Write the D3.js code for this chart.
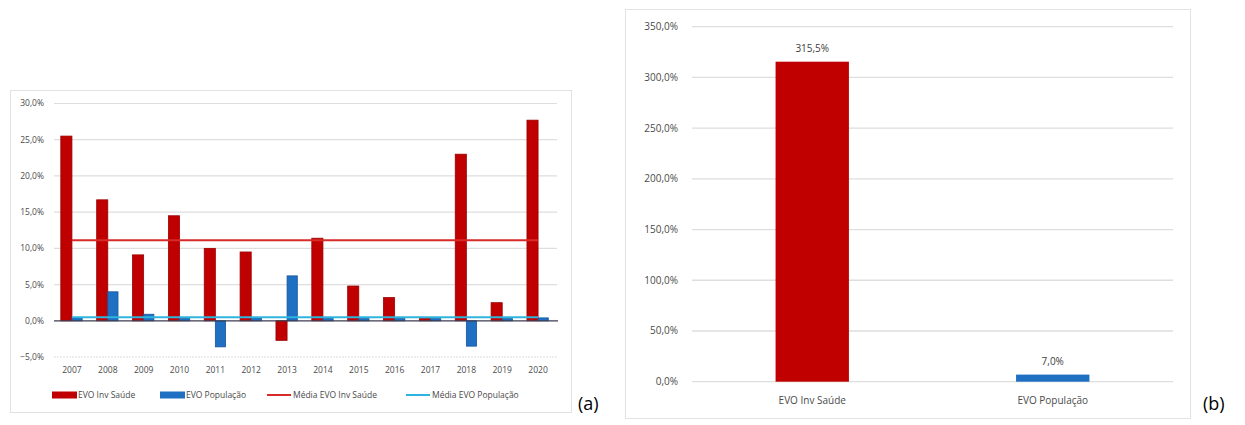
<!DOCTYPE html>
<html>
<head>
<meta charset="utf-8">
<script src="https://cdn.jsdelivr.net/npm/d3@7"></script>
<style>
  html, body { margin: 0; padding: 0; background: #ffffff; }
  svg { display: block; }
  text { font-family: "Open Sans", "Noto Sans", sans-serif; }
</style>
</head>
<body>
<svg id="chart" width="1245" height="425"></svg>
<script>
// Yearly evolution (%) — panel (a)
const years = ["2007","2008","2009","2010","2011","2012","2013","2014","2015","2016","2017","2018","2019","2020"];
const evoInvSaude = [25.5, 16.7, 9.1, 14.5, 10.0, 9.5, -2.7, 11.4, 4.8, 3.2, 0.3, 23.0, 2.5, 27.7];
const evoPopulacao = [0.4, 4.0, 0.9, 0.3, -3.6, 0.4, 6.2, 0.3, 0.3, 0.3, 0.3, -3.5, 0.3, 0.4];
const yTicksA = [-5, 0, 5, 10, 15, 20, 25, 30];
const legendA = ["EVO Inv Saúde", "EVO População", "Média EVO Inv Saúde", "Média EVO População"];

// Accumulated evolution (%) — panel (b)
const totalCategories = ["EVO Inv Saúde", "EVO População"];
const totalValues = [315.5, 7.0];
const yTicksB = [0, 50, 100, 150, 200, 250, 300, 350];

const RED = "#c00000", RED_EDGE = "#9a0000";
const BLUE = "#1f6fc2", BLUE_EDGE = "#17559a";
const RED_LINE = "#d92a2a", CYAN_LINE = "#2fb4de";
const GRID = "#dedede", TXT = "#4a4a4a";

const pt = d3.formatLocale({ decimal: ",", thousands: ".", grouping: [3], currency: ["", "€"] });
const pct = v => pt.format(".1f")(v) + "%";

const svg = d3.select("#chart");

// ---------- Panel (a) ----------
const a = svg.append("g");
a.append("rect").attr("x", 10.5).attr("y", 90.5).attr("width", 561).attr("height", 322)
  .attr("fill", "#fff").attr("stroke", "#e2e2e2");

const xA = d3.scaleBand().domain(years).range([54, 556]);
const yA = d3.scaleLinear().domain([-5, 30]).range([357, 103.5]);
const barW = xA.bandwidth() * 0.31;

a.append("g").selectAll("line").data(yTicksA.filter(t => t !== 0)).join("line")
  .attr("x1", 54).attr("x2", 557)
  .attr("y1", d => yA(d)).attr("y2", d => yA(d))
  .attr("stroke", GRID).attr("stroke-width", 1.2)
  .attr("stroke-dasharray", d => d < 0 ? "2,1" : null);

a.append("g").selectAll("text").data(yTicksA).join("text")
  .attr("x", 44).attr("y", d => yA(d)).attr("dy", "0.35em")
  .attr("text-anchor", "end").attr("font-size", 8.5).attr("fill", TXT)
  .text(pct);

const cx = d => xA(d) + xA.bandwidth() / 2;

a.append("g").selectAll("rect").data(years).join("rect")
  .attr("x", (d) => cx(d) - barW)
  .attr("width", barW)
  .attr("y", (d, i) => yA(Math.max(0, evoInvSaude[i])))
  .attr("height", (d, i) => Math.abs(yA(evoInvSaude[i]) - yA(0)))
  .attr("fill", RED).attr("stroke", RED_EDGE).attr("stroke-width", 0.8);

a.append("g").selectAll("rect").data(years).join("rect")
  .attr("x", (d) => cx(d))
  .attr("width", barW * 0.92)
  .attr("y", (d, i) => yA(Math.max(0, evoPopulacao[i])))
  .attr("height", (d, i) => Math.abs(yA(evoPopulacao[i]) - yA(0)))
  .attr("fill", BLUE).attr("stroke", BLUE_EDGE).attr("stroke-width", 0.8);

// zero axis
a.append("line").attr("x1", 54).attr("x2", 558).attr("y1", yA(0)).attr("y2", yA(0))
  .attr("stroke", "#3c3c50").attr("stroke-width", 1.2);

// average lines
const meanInv = d3.mean(evoInvSaude), meanPop = d3.mean(evoPopulacao);
const lineA = d3.line().x(d => cx(d[0])).y(d => yA(d[1]));
a.append("path").datum(years.map(y => [y, meanPop])).attr("d", lineA)
  .attr("fill", "none").attr("stroke", CYAN_LINE).attr("stroke-width", 2);
a.append("path").datum(years.map(y => [y, meanInv])).attr("d", lineA)
  .attr("fill", "none").attr("stroke", RED_LINE).attr("stroke-width", 2);

a.append("g").selectAll("text").data(years).join("text")
  .attr("x", d => cx(d)).attr("y", 370).attr("dy", "0.35em")
  .attr("text-anchor", "middle").attr("font-size", 8.5).attr("fill", TXT)
  .text(d => d);

// legend
const legX = [52, 160, 267, 406];
const leg = a.append("g").selectAll("g").data(legendA).join("g")
  .attr("transform", (d, i) => `translate(${legX[i]},395)`);
leg.each(function (d, i) {
  const g = d3.select(this);
  if (i < 2) {
    g.append("rect").attr("x", 0).attr("y", -3.5).attr("width", 25).attr("height", 7)
      .attr("fill", i === 0 ? RED : BLUE);
  } else {
    g.append("line").attr("x1", 0).attr("x2", 24).attr("y1", 0).attr("y2", 0)
      .attr("stroke", i === 2 ? RED_LINE : CYAN_LINE).attr("stroke-width", 2);
  }
  g.append("text").attr("x", 26).attr("y", 0).attr("dy", "0.35em")
    .attr("font-size", 8.5).attr("fill", TXT).text(d);
});

svg.append("text").attr("x", 578).attr("y", 410)
  .attr("font-family", "'Liberation Serif', 'Times New Roman', serif")
  .attr("font-size", 18).attr("fill", "#000").text("(a)");

// ---------- Panel (b) ----------
const b = svg.append("g");
b.append("rect").attr("x", 625.5).attr("y", 9.5).attr("width", 565).attr("height", 409)
  .attr("fill", "#fff").attr("stroke", "#e2e2e2");

const xB = d3.scaleBand().domain(totalCategories).range([692, 1173]);
const yB = d3.scaleLinear().domain([0, 350]).range([381.7, 26.7]);
const barWB = xB.bandwidth() * 0.305;

b.append("g").selectAll("line").data(yTicksB).join("line")
  .attr("x1", 692).attr("x2", 1173)
  .attr("y1", d => yB(d)).attr("y2", d => yB(d))
  .attr("stroke", GRID).attr("stroke-width", 1.3);

b.append("g").selectAll("text").data(yTicksB).join("text")
  .attr("x", 678).attr("y", d => yB(d)).attr("dy", "0.35em")
  .attr("text-anchor", "end").attr("font-size", 10).attr("fill", TXT)
  .text(pct);

const cxB = d => xB(d) + xB.bandwidth() / 2;
b.append("g").selectAll("rect").data(totalCategories).join("rect")
  .attr("x", d => cxB(d) - barWB / 2).attr("width", barWB)
  .attr("y", (d, i) => yB(totalValues[i]))
  .attr("height", (d, i) => yB(0) - yB(totalValues[i]))
  .attr("fill", (d, i) => i === 0 ? RED : BLUE);

b.append("g").selectAll("text").data(totalCategories).join("text")
  .attr("x", d => cxB(d)).attr("y", (d, i) => yB(totalValues[i]) - 13).attr("dy", "0.35em")
  .attr("text-anchor", "middle").attr("font-size", 10).attr("fill", "#404040")
  .text((d, i) => pct(totalValues[i]));

b.append("g").selectAll("text").data(totalCategories).join("text")
  .attr("x", d => cxB(d)).attr("y", 400).attr("dy", "0.35em")
  .attr("text-anchor", "middle").attr("font-size", 10).attr("fill", TXT)
  .text(d => d);

svg.append("text").attr("x", 1203).attr("y", 410)
  .attr("font-family", "'Liberation Serif', 'Times New Roman', serif")
  .attr("font-size", 18).attr("fill", "#000").text("(b)");
</script>
</body>
</html>
